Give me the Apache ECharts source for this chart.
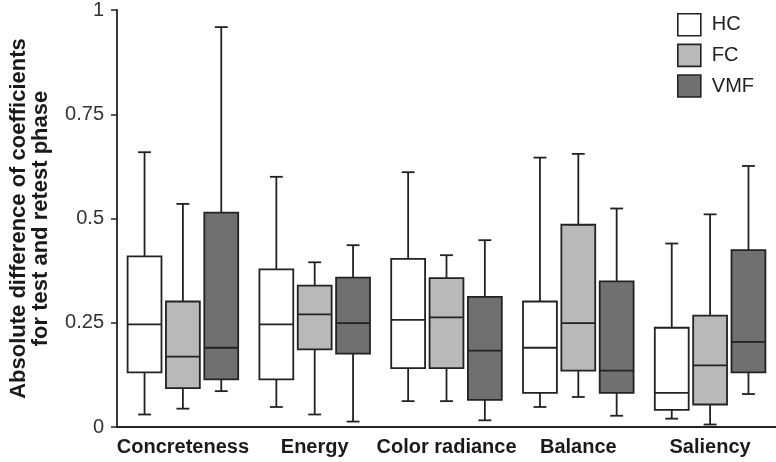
<!DOCTYPE html>
<html>
<head>
<meta charset="utf-8">
<script src="https://cdn.jsdelivr.net/npm/echarts@6/dist/echarts.min.js"></script>
<style>
html,body{margin:0;padding:0;background:#fff;}
#chart{width:776px;height:462px;}
</style>
</head>
<body>
<div id="chart"></div>
<script>
// Categories
const categories = ['Concreteness', 'Energy', 'Color radiance', 'Balance', 'Saliency'];
const groupNames = ['HC', 'FC', 'VMF'];
const yTicks = [0, 0.25, 0.5, 0.75, 1];

// Each row: [min, Q1, median, Q3, max]
const hcValues = [
  [0.030, 0.131, 0.246, 0.409, 0.659],
  [0.048, 0.114, 0.246, 0.378, 0.600],
  [0.062, 0.141, 0.257, 0.403, 0.611],
  [0.048, 0.082, 0.190, 0.301, 0.646],
  [0.020, 0.041, 0.082, 0.238, 0.440]
];
const fcValues = [
  [0.044, 0.093, 0.169, 0.301, 0.535],
  [0.030, 0.186, 0.270, 0.339, 0.395],
  [0.062, 0.141, 0.263, 0.357, 0.412],
  [0.072, 0.135, 0.249, 0.485, 0.655],
  [0.006, 0.054, 0.148, 0.267, 0.510]
];
const vmfValues = [
  [0.086, 0.114, 0.190, 0.514, 0.959],
  [0.013, 0.176, 0.249, 0.358, 0.436],
  [0.016, 0.065, 0.183, 0.312, 0.448],
  [0.027, 0.082, 0.135, 0.349, 0.524],
  [0.079, 0.131, 0.204, 0.424, 0.626]
];

const fills = ['#ffffff', '#b9b9b9', '#707070'];
const strokeColor = '#222222';
const offsets = [-0.291, 0.0, 0.291];
const boxFrac = 0.257;
const capFrac = 0.098;
const lw = 1.8;

function makeRender(k) {
  return function (params, api) {
    const cat = api.value(0);
    const band = api.size([1, 0])[0];
    const cx = api.coord([cat, 0])[0] + offsets[k] * band;
    const yMin = api.coord([cat, api.value(1)])[1];
    const yQ1 = api.coord([cat, api.value(2)])[1];
    const yMed = api.coord([cat, api.value(3)])[1];
    const yQ3 = api.coord([cat, api.value(4)])[1];
    const yMax = api.coord([cat, api.value(5)])[1];
    const hb = band * boxFrac / 2;
    const hc = band * capFrac / 2;
    const ls = { stroke: strokeColor, lineWidth: lw, fill: null };
    return {
      type: 'group',
      children: [
        { type: 'line', shape: { x1: cx, y1: yQ3, x2: cx, y2: yMax }, style: ls },
        { type: 'line', shape: { x1: cx, y1: yQ1, x2: cx, y2: yMin }, style: ls },
        { type: 'line', shape: { x1: cx - hc, y1: yMax, x2: cx + hc, y2: yMax }, style: ls },
        { type: 'line', shape: { x1: cx - hc, y1: yMin, x2: cx + hc, y2: yMin }, style: ls },
        { type: 'rect', shape: { x: cx - hb, y: yQ3, width: 2 * hb, height: yQ1 - yQ3 },
          style: { fill: fills[k], stroke: strokeColor, lineWidth: lw } },
        { type: 'line', shape: { x1: cx - hb, y1: yMed, x2: cx + hb, y2: yMed }, style: ls }
      ]
    };
  };
}

const allValues = [hcValues, fcValues, vmfValues];
const series = groupNames.map(function (name, k) {
  return {
    name: name,
    type: 'custom',
    renderItem: makeRender(k),
    encode: { x: 0, y: [1, 2, 3, 4, 5] },
    itemStyle: { color: fills[k], borderColor: strokeColor, borderWidth: 1.6 },
    data: allValues[k].map(function (r, i) { return [i].concat(r); })
  };
});

const chart = echarts.init(document.getElementById('chart'));
chart.setOption({
  animation: false,
  textStyle: { fontFamily: '"Liberation Sans", Arial, sans-serif' },
  grid: { left: 115, right: 0, top: 10, bottom: 35 },
  legend: {
    orient: 'vertical',
    left: 672,
    top: 8,
    itemWidth: 23,
    itemHeight: 22,
    itemGap: 7,
    icon: 'rect',
    textStyle: { fontSize: 20, color: '#222', padding: [0, 0, 0, 6] },
    data: groupNames.map(function (n, k) {
      return { name: n, icon: 'rect', itemStyle: { color: fills[k], borderColor: strokeColor, borderWidth: 1.6 } };
    })
  },
  xAxis: {
    type: 'category',
    data: categories,
    axisLine: { lineStyle: { color: '#222', width: 1.8 } },
    axisTick: { alignWithLabel: true, length: 4, lineStyle: { color: '#222', width: 1.5 } },
    axisLabel: { interval: 0, fontSize: 20, fontWeight: 'bold', color: '#1a1a1a', margin: 10 },
    splitLine: { show: false }
  },
  yAxis: {
    type: 'value',
    min: yTicks[0],
    max: yTicks[yTicks.length - 1],
    interval: 0.25,
    name: 'Absolute difference of coefficients\nfor test and retest phase',
    nameLocation: 'middle',
    nameRotate: 90,
    nameGap: 65,
    nameTextStyle: { fontSize: 22, fontWeight: 'bold', color: '#1a1a1a', lineHeight: 22 },
    axisLine: { show: true, lineStyle: { color: '#222', width: 1.8 } },
    axisTick: { show: true, length: 6, lineStyle: { color: '#222', width: 1.5 } },
    axisLabel: { fontSize: 20, color: '#333', margin: 13 },
    splitLine: { show: false }
  },
  series: series
});
</script>
</body>
</html>
